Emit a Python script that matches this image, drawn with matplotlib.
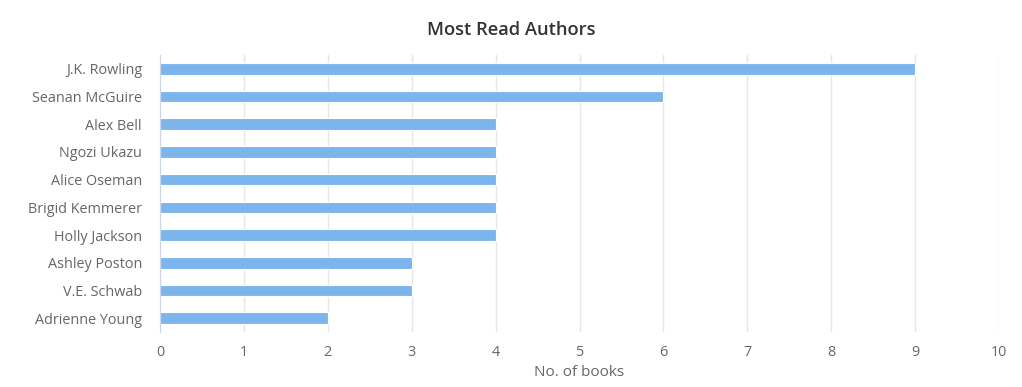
import matplotlib
matplotlib.use("Agg")
from matplotlib import pyplot as plt

authors = ["J.K. Rowling", "Seanan McGuire", "Alex Bell", "Ngozi Ukazu", "Alice Oseman",
           "Brigid Kemmerer", "Holly Jackson", "Ashley Poston", "V.E. Schwab", "Adrienne Young"]
books = [9, 6, 4, 4, 4, 4, 4, 3, 3, 2]
x_ticks = list(range(0, 11))

plt.rcParams["font.family"] = ["Open Sans", "DejaVu Sans"]

fig = plt.figure(figsize=(10.22, 3.87), dpi=100)
ax = fig.add_axes([160 / 1022, 1 - 332 / 387, (999 - 160) / 1022, (332 - 55) / 387])

pos = list(range(len(authors)))
ax.barh(pos, books, height=0.42, color="#7cb5ec", edgecolor="white", linewidth=0.8, zorder=3)

ax.set_ylim(len(authors) - 0.5, -0.5)
ax.set_yticks(pos)
ax.set_yticklabels(authors)
ax.set_xlim(0, 10)
ax.set_xticks(x_ticks)

ax.grid(axis="x", color="#e6e6e6", linewidth=1, zorder=0)
for s in ["top", "right", "bottom"]:
    ax.spines[s].set_visible(False)
ax.spines["left"].set_color("#ccd6eb")
ax.spines["left"].set_zorder(4)
ax.tick_params(axis="both", length=0, labelsize=10.4, colors="#666666")
ax.tick_params(axis="y", pad=13)
ax.tick_params(axis="x", pad=9)

ax.set_xlabel("No. of books", fontsize=11, color="#666666", labelpad=4)
fig.text(0.5, 1 - 30 / 387, "Most Read Authors", fontsize=13.2, fontweight="semibold",
         color="#333333", ha="center", va="center")

fig.savefig("out.png", dpi=100)
